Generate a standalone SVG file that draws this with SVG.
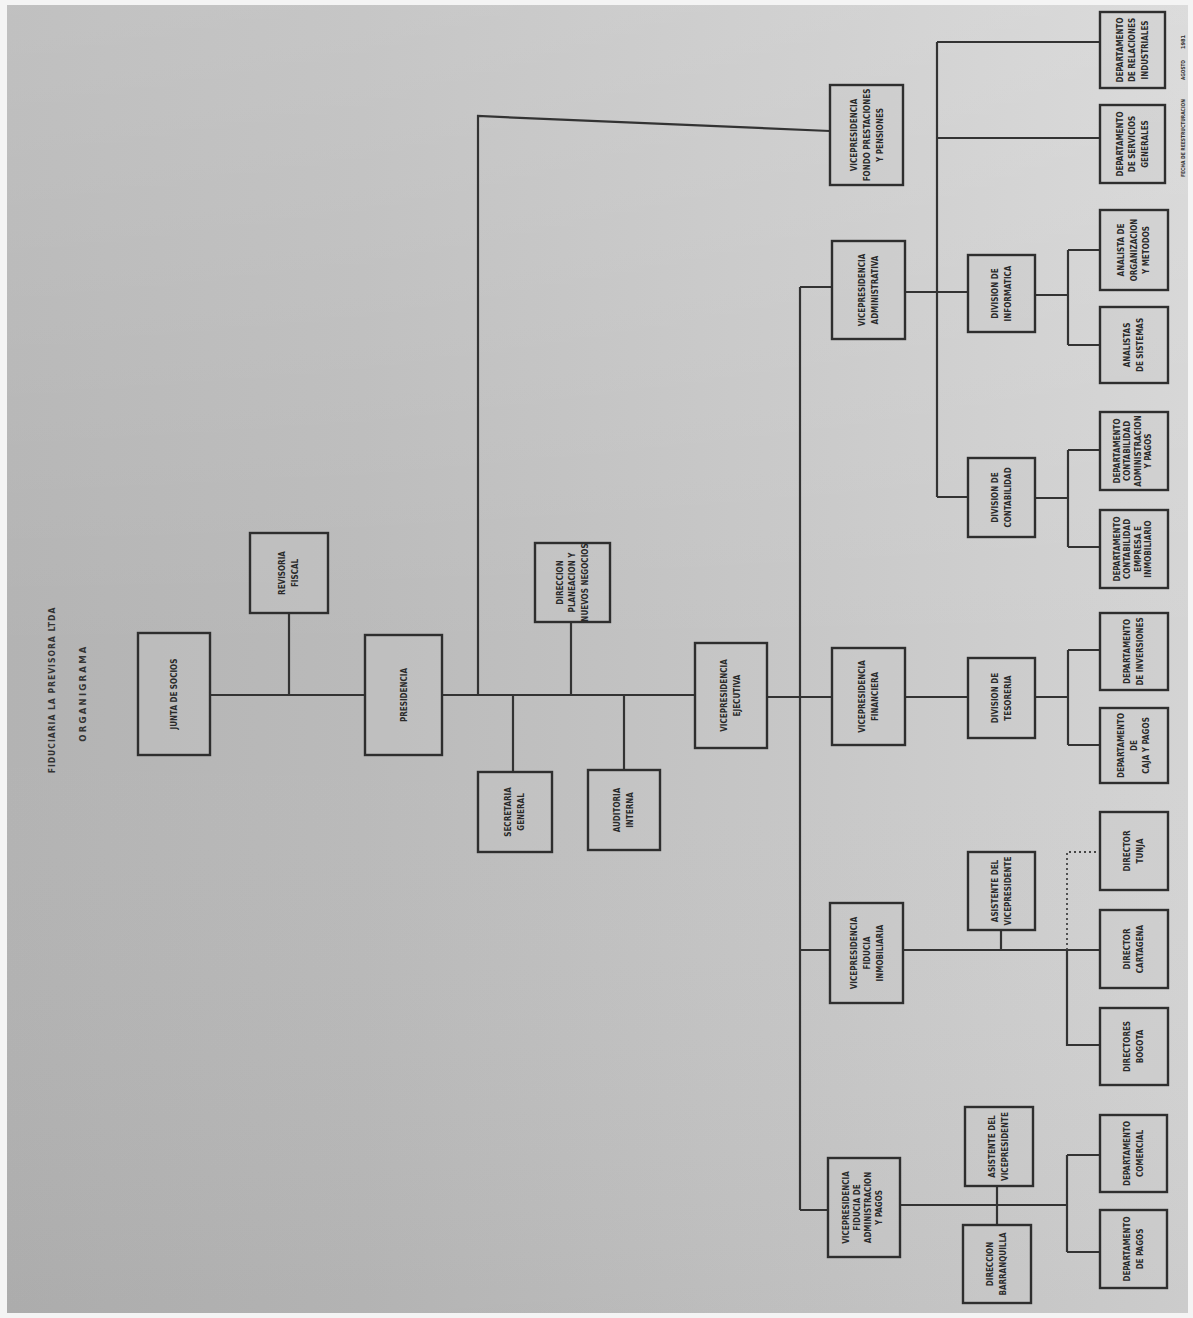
<svg xmlns="http://www.w3.org/2000/svg" width="1193" height="1318" viewBox="0 0 1193 1318">
<defs>
<linearGradient id="paper" x1="0" y1="0" x2="1" y2="0">
<stop offset="0" stop-color="#b3b3b3"/>
<stop offset="0.3" stop-color="#bababa"/>
<stop offset="0.7" stop-color="#c8c8c8"/>
<stop offset="1" stop-color="#d4d4d4"/>
</linearGradient>
<linearGradient id="shade" x1="0" y1="0" x2="0" y2="1">
<stop offset="0" stop-color="#ffffff" stop-opacity="0.18"/>
<stop offset="0.5" stop-color="#ffffff" stop-opacity="0"/>
<stop offset="1" stop-color="#000000" stop-opacity="0.04"/>
</linearGradient>
</defs>
<style>
.box{fill:#c9c9c9;fill-opacity:0.35;stroke:#2e2e2e;stroke-width:2.4}
.ln{fill:none;stroke:#333;stroke-width:2.2}
.dot{fill:none;stroke:#444;stroke-width:1.8;stroke-dasharray:2 3}
.t{font-family:"DejaVu Sans Condensed","DejaVu Sans",sans-serif;font-weight:bold;font-size:8px;fill:#2a2a2a;text-anchor:middle}
.title{font-family:"DejaVu Sans Condensed","DejaVu Sans",sans-serif;font-weight:bold;fill:#333;text-anchor:middle}
</style>
<rect x="0" y="0" width="1193" height="1318" fill="#f4f4f4"/>
<rect x="7" y="5" width="1181" height="1308" fill="url(#paper)"/>
<rect x="7" y="5" width="1181" height="1308" fill="url(#shade)"/>

<text class="title" font-size="8.5" letter-spacing="1" transform="translate(55,690) rotate(-90)">FIDUCIARIA LA PREVISORA LTDA</text>
<text class="title" font-size="9.5" letter-spacing="2.2" transform="translate(86,693) rotate(-90)">ORGANIGRAMA</text>
<text class="title" font-size="5.5" textLength="78" lengthAdjust="spacingAndGlyphs" transform="translate(1185,138) rotate(-90)">FECHA DE REESTRUCTURACION</text>
<text class="title" font-size="5.5" textLength="20" lengthAdjust="spacingAndGlyphs" transform="translate(1185,70) rotate(-90)">AGOSTO</text>
<text class="title" font-size="5.5" textLength="14" lengthAdjust="spacingAndGlyphs" transform="translate(1185,42) rotate(-90)">1981</text>

<g id="connectors">
<path class="ln" d="M210,695 H365 M442,695 H695"/>
<path class="ln" d="M289,613 V695"/>
<path class="ln" d="M478,695 V116 L830,131"/>
<path class="ln" d="M513,695 V772"/>
<path class="ln" d="M571,622 V695"/>
<path class="ln" d="M624,695 V770"/>
<path class="ln" d="M767,697 H800"/>
<path class="ln" d="M800,287 V1210"/>
<path class="ln" d="M800,287 H832 M800,697 H832 M800,950 H830 M800,1210 H828"/>
<path class="ln" d="M905,292 H968"/>
<path class="ln" d="M937,42 V497 M937,42 H1100 M937,138 H1100 M937,497 H968"/>
<path class="ln" d="M1035,295 H1068 M1068,250 V345 M1068,250 H1100 M1068,345 H1100"/>
<path class="ln" d="M1035,498 H1068 M1068,450 V547 M1068,450 H1100 M1068,547 H1100"/>
<path class="ln" d="M905,697 H968 M1035,697 H1068 M1068,650 V745 M1068,650 H1100 M1068,745 H1100"/>
<path class="ln" d="M903,950 H1100 M1001,930 V950 M1067,950 V1045 H1100"/>
<path class="dot" d="M1067,950 V852 H1100"/>
<path class="ln" d="M900,1205 H1067 M997,1186 V1225 M1067,1155 V1252 M1067,1155 H1100 M1067,1252 H1100"/>
</g>

<g id="junta-socios"><rect class="box" x="138" y="633" width="72" height="122"/>
<text class="t" font-size="9" transform="translate(174,694) rotate(-90)"><tspan x="0" y="3">JUNTA DE SOCIOS</tspan></text></g>

<g id="revisoria-fiscal"><rect class="box" x="250" y="533" width="78" height="80"/>
<text class="t" font-size="8.5" transform="translate(289,573) rotate(-90)"><tspan x="0" y="-4">REVISORIA</tspan><tspan x="0" y="9">FISCAL</tspan></text></g>

<g id="presidencia"><rect class="box" x="365" y="635" width="77" height="120"/>
<text class="t" font-size="9" transform="translate(403.5,695) rotate(-90)"><tspan x="0" y="3">PRESIDENCIA</tspan></text></g>

<g id="secretaria-general"><rect class="box" x="478" y="772" width="74" height="80"/>
<text class="t" font-size="8.5" transform="translate(515,812) rotate(-90)"><tspan x="0" y="-4">SECRETARIA</tspan><tspan x="0" y="9">GENERAL</tspan></text></g>

<g id="direccion-planeacion"><rect class="box" x="535" y="543" width="75" height="79"/>
<text class="t" font-size="6.8" transform="translate(572.5,582.5) rotate(-90)"><tspan x="0" y="-10">DIRECCION</tspan><tspan x="0" y="2.5">PLANEACION Y</tspan><tspan x="0" y="15">NUEVOS NEGOCIOS</tspan></text></g>

<g id="auditoria-interna"><rect class="box" x="588" y="770" width="72" height="80"/>
<text class="t" font-size="8.5" transform="translate(624,810) rotate(-90)"><tspan x="0" y="-4">AUDITORIA</tspan><tspan x="0" y="9">INTERNA</tspan></text></g>

<g id="vp-ejecutiva"><rect class="box" x="695" y="643" width="72" height="105"/>
<text class="t" font-size="8.5" transform="translate(731,695.5) rotate(-90)"><tspan x="0" y="-4">VICEPRESIDENCIA</tspan><tspan x="0" y="9">EJECUTIVA</tspan></text></g>

<g id="vp-fondo-prestaciones"><rect class="box" x="830" y="85" width="73" height="100"/>
<text class="t" transform="translate(866.5,135) rotate(-90)"><tspan x="0" y="-10">VICEPRESIDENCIA</tspan><tspan x="0" y="3">FONDO PRESTACIONES</tspan><tspan x="0" y="16">Y PENSIONES</tspan></text></g>

<g id="vp-administrativa"><rect class="box" x="832" y="241" width="73" height="98"/>
<text class="t" font-size="8.5" transform="translate(868.5,290) rotate(-90)"><tspan x="0" y="-4">VICEPRESIDENCIA</tspan><tspan x="0" y="9">ADMINISTRATIVA</tspan></text></g>

<g id="vp-financiera"><rect class="box" x="832" y="648" width="73" height="97"/>
<text class="t" font-size="8.5" transform="translate(868.5,696.5) rotate(-90)"><tspan x="0" y="-4">VICEPRESIDENCIA</tspan><tspan x="0" y="9">FINANCIERA</tspan></text></g>

<g id="vp-fiducia-inmobiliaria"><rect class="box" x="830" y="903" width="73" height="100"/>
<text class="t" transform="translate(866.5,953) rotate(-90)"><tspan x="0" y="-10">VICEPRESIDENCIA</tspan><tspan x="0" y="3">FIDUCIA</tspan><tspan x="0" y="16">INMOBILIARIA</tspan></text></g>

<g id="vp-fiducia-administracion"><rect class="box" x="828" y="1158" width="72" height="99"/>
<text class="t" font-size="7.5" transform="translate(864,1207.5) rotate(-90)"><tspan x="0" y="-15">VICEPRESIDENCIA</tspan><tspan x="0" y="-4">FIDUCIA DE</tspan><tspan x="0" y="7">ADMINISTRACION</tspan><tspan x="0" y="18">Y PAGOS</tspan></text></g>

<g id="div-informatica"><rect class="box" x="968" y="255" width="67" height="77"/>
<text class="t" transform="translate(1001.5,293.5) rotate(-90)"><tspan x="0" y="-4">DIVISION DE</tspan><tspan x="0" y="9">INFORMATICA</tspan></text></g>

<g id="div-contabilidad"><rect class="box" x="968" y="458" width="67" height="79"/>
<text class="t" transform="translate(1001.5,497.5) rotate(-90)"><tspan x="0" y="-4">DIVISION DE</tspan><tspan x="0" y="9">CONTABILIDAD</tspan></text></g>

<g id="div-tesoreria"><rect class="box" x="968" y="658" width="67" height="80"/>
<text class="t" transform="translate(1001.5,698) rotate(-90)"><tspan x="0" y="-4">DIVISION DE</tspan><tspan x="0" y="9">TESORERIA</tspan></text></g>

<g id="asistente-vp-inmobiliaria"><rect class="box" x="968" y="852" width="67" height="78"/>
<text class="t" font-size="7.5" transform="translate(1001.5,891) rotate(-90)"><tspan x="0" y="-4">ASISTENTE DEL</tspan><tspan x="0" y="9">VICEPRESIDENTE</tspan></text></g>

<g id="asistente-vp-administracion"><rect class="box" x="965" y="1107" width="68" height="79"/>
<text class="t" font-size="7.5" transform="translate(999,1146.5) rotate(-90)"><tspan x="0" y="-4">ASISTENTE DEL</tspan><tspan x="0" y="9">VICEPRESIDENTE</tspan></text></g>

<g id="direccion-barranquilla"><rect class="box" x="963" y="1225" width="68" height="78"/>
<text class="t" font-size="7.5" transform="translate(997,1264) rotate(-90)"><tspan x="0" y="-4">DIRECCION</tspan><tspan x="0" y="9">BARRANQUILLA</tspan></text></g>

<g id="dep-relaciones-industriales"><rect class="box" x="1100" y="12" width="65" height="76"/>
<text class="t" font-size="7" transform="translate(1132.5,50) rotate(-90)"><tspan x="0" y="-10">DEPARTAMENTO</tspan><tspan x="0" y="2.5">DE RELACIONES</tspan><tspan x="0" y="15">INDUSTRIALES</tspan></text></g>

<g id="dep-servicios-generales"><rect class="box" x="1100" y="105" width="65" height="78"/>
<text class="t" font-size="7" transform="translate(1132.5,144) rotate(-90)"><tspan x="0" y="-10">DEPARTAMENTO</tspan><tspan x="0" y="2.5">DE SERVICIOS</tspan><tspan x="0" y="15">GENERALES</tspan></text></g>

<g id="analista-organizacion"><rect class="box" x="1100" y="210" width="68" height="80"/>
<text class="t" font-size="7" transform="translate(1134,250) rotate(-90)"><tspan x="0" y="-10">ANALISTA DE</tspan><tspan x="0" y="2.5">ORGANIZACION</tspan><tspan x="0" y="15">Y METODOS</tspan></text></g>

<g id="analistas-sistemas"><rect class="box" x="1100" y="307" width="68" height="76"/>
<text class="t" font-size="7.5" transform="translate(1134,345) rotate(-90)"><tspan x="0" y="-4">ANALISTAS</tspan><tspan x="0" y="9">DE SISTEMAS</tspan></text></g>

<g id="dep-contabilidad-administracion"><rect class="box" x="1100" y="412" width="68" height="78"/>
<text class="t" font-size="6.8" transform="translate(1134,451) rotate(-90)"><tspan x="0" y="-14.5">DEPARTAMENTO</tspan><tspan x="0" y="-4">CONTABILIDAD</tspan><tspan x="0" y="6.5">ADMINISTRACION</tspan><tspan x="0" y="17">Y PAGOS</tspan></text></g>

<g id="dep-contabilidad-empresa"><rect class="box" x="1100" y="510" width="68" height="78"/>
<text class="t" font-size="6.8" transform="translate(1134,549) rotate(-90)"><tspan x="0" y="-14.5">DEPARTAMENTO</tspan><tspan x="0" y="-4">CONTABILIDAD</tspan><tspan x="0" y="6.5">EMPRESA E</tspan><tspan x="0" y="17">INMOBILIARIO</tspan></text></g>

<g id="dep-inversiones"><rect class="box" x="1100" y="613" width="68" height="77"/>
<text class="t" font-size="7" transform="translate(1134,651.5) rotate(-90)"><tspan x="0" y="-4">DEPARTAMENTO</tspan><tspan x="0" y="9">DE INVERSIONES</tspan></text></g>

<g id="dep-caja-pagos"><rect class="box" x="1100" y="708" width="68" height="75"/>
<text class="t" font-size="7" transform="translate(1134,745.5) rotate(-90)"><tspan x="0" y="-10">DEPARTAMENTO</tspan><tspan x="0" y="2.5">DE</tspan><tspan x="0" y="15">CAJA Y PAGOS</tspan></text></g>

<g id="director-tunja"><rect class="box" x="1100" y="812" width="68" height="78"/>
<text class="t" transform="translate(1134,851) rotate(-90)"><tspan x="0" y="-4">DIRECTOR</tspan><tspan x="0" y="9">TUNJA</tspan></text></g>

<g id="director-cartagena"><rect class="box" x="1100" y="910" width="68" height="78"/>
<text class="t" transform="translate(1134,949) rotate(-90)"><tspan x="0" y="-4">DIRECTOR</tspan><tspan x="0" y="9">CARTAGENA</tspan></text></g>

<g id="directores-bogota"><rect class="box" x="1100" y="1008" width="68" height="77"/>
<text class="t" transform="translate(1134,1046.5) rotate(-90)"><tspan x="0" y="-4">DIRECTORES</tspan><tspan x="0" y="9">BOGOTA</tspan></text></g>

<g id="dep-comercial"><rect class="box" x="1100" y="1115" width="67" height="77"/>
<text class="t" font-size="7.5" transform="translate(1133.5,1153.5) rotate(-90)"><tspan x="0" y="-4">DEPARTAMENTO</tspan><tspan x="0" y="9">COMERCIAL</tspan></text></g>

<g id="dep-pagos"><rect class="box" x="1100" y="1210" width="67" height="78"/>
<text class="t" font-size="7.5" transform="translate(1133.5,1249) rotate(-90)"><tspan x="0" y="-4">DEPARTAMENTO</tspan><tspan x="0" y="9">DE PAGOS</tspan></text></g>
</svg>
